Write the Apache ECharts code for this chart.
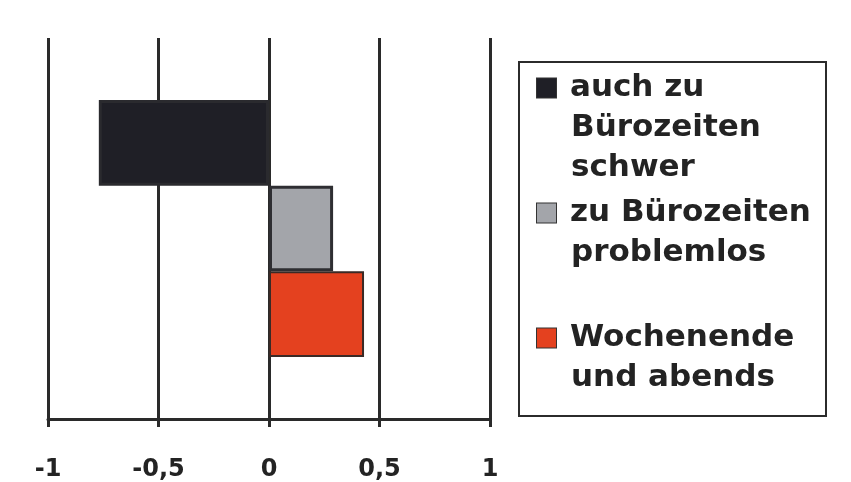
<!DOCTYPE html>
<html>
<head>
<meta charset="utf-8">
<script src="https://cdn.jsdelivr.net/npm/echarts@6/dist/echarts.min.js"></script>
<style>
  html, body { margin: 0; padding: 0; background: #ffffff; }
  #chart { width: 851px; height: 482px; }
</style>
</head>
<body>
<div id="chart"></div>
<script>
// ---- data ----
const categories = ['Erreichbarkeit'];
const seriesNames = ['auch zu Bürozeiten schwer', 'zu Bürozeiten problemlos', 'Wochenende und abends'];
const seriesValues = [-0.77, 0.29, 0.43];
const legendLines = [
  ['auch zu', 'Bürozeiten', 'schwer'],
  ['zu Bürozeiten', 'problemlos', ' '],
  ['Wochenende', 'und abends']
];
const tickValues = [-1, -0.5, 0, 0.5, 1];
const tickLabels = ['-1', '-0,5', '0', '0,5', '1'];
const colors = ['#1f1f26', '#a3a5aa', '#e4411f'];
const borderColors = ['#2a2a2e', '#2e2e32', '#3a2a26'];

const FONT = 'DejaVu Sans';
const INK = '#232323';

const chart = echarts.init(document.getElementById('chart'), null, { renderer: 'canvas' });

const rich = {
  g: { width: 14 },
  sp: { width: 34 },
  t: { fontFamily: FONT, fontSize: 31, fontWeight: 'bold', color: INK, lineHeight: 40, width: 250 }
};
colors.forEach((c, i) => {
  rich['sq' + i] = { width: 19, height: 19, backgroundColor: c, borderColor: '#333', borderWidth: 1 };
});

const option = {
  backgroundColor: '#ffffff',
  animation: false,
  grid: { left: 48, right: 361, top: 38, bottom: 62, containLabel: false },
  xAxis: {
    type: 'value',
    min: -1, max: 1, interval: 0.5,
    axisLine: { show: true, onZero: false, lineStyle: { color: '#2a2a2a', width: 3 } },
    axisTick: { show: true, length: 8, lineStyle: { color: '#2a2a2a', width: 3 } },
    splitLine: { show: true, lineStyle: { color: '#2a2a2a', width: 3 } },
    axisLabel: {
      margin: 39,
      fontFamily: FONT, fontSize: 24, fontWeight: 'bold', color: INK,
      formatter: v => {
        const idx = tickValues.findIndex(t => Math.abs(t - v) < 1e-9);
        return idx >= 0 ? tickLabels[idx] : '';
      }
    }
  },
  yAxis: {
    type: 'category',
    data: categories,
    inverse: true,
    axisLine: { show: false },
    axisTick: { show: false },
    axisLabel: { show: false },
    splitLine: { show: false }
  },
  legend: {
    orient: 'vertical',
    left: 519, top: 62,
    padding: [6, 5, 18, 12],
    itemGap: 5,
    itemWidth: 0, itemHeight: 0,
    borderColor: '#2b2b2b', borderWidth: 2,
    selectedMode: false,
    data: seriesNames,
    formatter: name => {
      const i = seriesNames.indexOf(name);
      return legendLines[i].map((l, j) => (j === 0 ? '{sq' + i + '|}{g|}' : '{sp|}') + '{t|' + l + '}').join('\n');
    },
    textStyle: { fontFamily: FONT, fontSize: 31, fontWeight: 'bold', color: INK, lineHeight: 40, rich: rich }
  },
  series: seriesNames.map((n, i) => ({
    name: n,
    type: 'bar',
    data: [seriesValues[i]],
    barGap: '0%',
    barCategoryGap: '32.5%',
    itemStyle: { color: colors[i], borderColor: borderColors[i], borderWidth: i === 2 ? 2 : 3 }
  }))
};

chart.setOption(option);
</script>
</body>
</html>
